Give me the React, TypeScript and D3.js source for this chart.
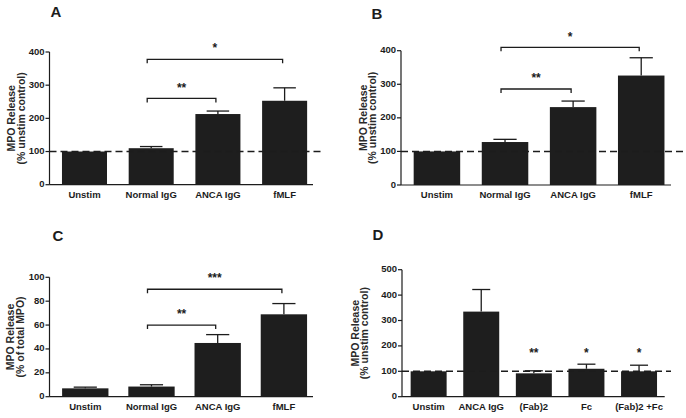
import * as d3 from 'd3';

// ---- data ----
const catsABC = ['Unstim', 'Normal IgG', 'ANCA IgG', 'fMLF'];
const catsD = ['Unstim', 'ANCA IgG', '(Fab)2', 'Fc', '(Fab)2 +Fc'];

const meanA = [100, 110, 213, 253];
const semA = [0, 5, 9, 39];
const meanB = [100, 128, 232, 326];
const semB = [0, 8, 18, 53];
const meanC = [7, 8.5, 45, 69];
const semC = [1, 1.5, 7, 9];
const meanD = [100, 335, 92, 110, 100];
const semD = [0, 87, 10, 18, 24];

const ticksUnstim400 = [0, 100, 200, 300, 400];
const ticksTotal = [0, 20, 40, 60, 80, 100];
const ticksUnstim500 = [0, 100, 200, 300, 400, 500];

type Bracket = { from: number; to: number; y: number; label: string };
type Star = { at: number; y: number; label: string };

const bracketsA: Bracket[] = [
  { from: 1, to: 2, y: 260, label: '**' },
  { from: 1, to: 3, y: 378, label: '*' },
];
const bracketsB: Bracket[] = [
  { from: 1, to: 2, y: 286, label: '**' },
  { from: 1, to: 3, y: 410, label: '*' },
];
const bracketsC: Bracket[] = [
  { from: 1, to: 2, y: 60, label: '**' },
  { from: 1, to: 3, y: 90, label: '***' },
];
const starsD: Star[] = [
  { at: 2, y: 168, label: '**' },
  { at: 3, y: 168, label: '*' },
  { at: 4, y: 168, label: '*' },
];

const FONT = '"Liberation Sans", Arial, sans-serif';
const INK = '#1c1c1c';

interface PanelProps {
  letter: string;
  letterX: number;
  letterY: number;
  cats: string[];
  mean: number[];
  sem: number[];
  ticks: number[];
  yLines: [string, string];
  x0: number;
  x1: number;
  yTop: number;
  yBottom: number;
  padInner: number;
  padOuter: number;
  align: number;
  labelOffset: number;
  dashEnd?: number;
  brackets?: Bracket[];
  stars?: Star[];
}

function Panel(p: PanelProps) {
  const yMax = p.ticks[p.ticks.length - 1];
  const y = d3.scaleLinear().domain([0, yMax]).range([p.yBottom, p.yTop]);
  const x = d3
    .scaleBand<string>()
    .domain(p.cats)
    .range([p.x0, p.x1])
    .paddingInner(p.padInner)
    .paddingOuter(p.padOuter)
    .align(p.align);
  const bw = x.bandwidth();
  const cx = (i: number) => (x(p.cats[i]) ?? 0) + bw / 2;
  const midY = (p.yTop + p.yBottom) / 2;

  return (
    <g fontFamily={FONT}>
      <text x={p.letterX} y={p.letterY} fontSize={15} fontWeight="bold" fill={INK} dominantBaseline="middle" textAnchor="middle">
        {p.letter}
      </text>

      {/* y label */}
      <g transform={`translate(${p.x0 - p.labelOffset},${midY}) rotate(-90)`}>
        <text x={0} y={0} fontSize={10.5} fontWeight="bold" fill="#2a2a2a" textAnchor="middle" dominantBaseline="middle">
          {p.yLines[0]}
        </text>
        <text x={0} y={9.5} fontSize={10.5} fontWeight="bold" fill="#2a2a2a" textAnchor="middle" dominantBaseline="middle">
          {p.yLines[1]}
        </text>
      </g>

      {/* bars */}
      {p.cats.map((c, i) => (
        <rect key={c} x={x(c)} y={y(p.mean[i])} width={bw} height={p.yBottom - y(p.mean[i])} fill="#1e1e1e" />
      ))}

      {/* error bars (upper only) */}
      {p.cats.map((c, i) =>
        p.sem[i] > 0 ? (
          <g key={c} stroke={INK} strokeWidth={1.3}>
            <line x1={cx(i)} x2={cx(i)} y1={y(p.mean[i])} y2={y(p.mean[i] + p.sem[i])} />
            <line x1={cx(i) - bw / 4} x2={cx(i) + bw / 4} y1={y(p.mean[i] + p.sem[i])} y2={y(p.mean[i] + p.sem[i])} />
          </g>
        ) : null
      )}

      {/* dashed reference line */}
      {p.dashEnd !== undefined && (
        <line x1={p.x0} x2={p.dashEnd} y1={y(100)} y2={y(100)} stroke={INK} strokeWidth={1.5} strokeDasharray="7,4" />
      )}

      {/* axes */}
      <line x1={p.x0} x2={p.x0} y1={p.yTop} y2={p.yBottom} stroke={INK} strokeWidth={1.2} />
      <line x1={p.x0} x2={p.x1} y1={p.yBottom} y2={p.yBottom} stroke={INK} strokeWidth={1.2} />
      {p.ticks.map((t) => (
        <g key={t}>
          <line x1={p.x0 - 4} x2={p.x0} y1={y(t)} y2={y(t)} stroke={INK} strokeWidth={1.2} />
          <text x={p.x0 - 5} y={y(t)} fontSize={9.5} fontWeight="bold" fill={INK} textAnchor="end" dominantBaseline="middle">
            {t}
          </text>
        </g>
      ))}
      {p.cats.map((c, i) => (
        <text key={c} x={cx(i)} y={p.yBottom + 10.5} fontSize={9.5} fontWeight="bold" fill={INK} textAnchor="middle" dominantBaseline="middle">
          {c}
        </text>
      ))}

      {/* significance brackets */}
      {(p.brackets ?? []).map((b, k) => {
        const yy = y(b.y);
        const xa = cx(b.from) - 4;
        const xb = cx(b.to) - 2;
        return (
          <g key={k}>
            <path d={`M${xa},${yy + 4}V${yy}H${xb}V${yy + 4}`} fill="none" stroke={INK} strokeWidth={1.3} />
            <text x={(xa + xb) / 2} y={yy - 10} fontSize={12} fontWeight="bold" fill={INK} textAnchor="middle" dominantBaseline="middle">
              {b.label}
            </text>
          </g>
        );
      })}
      {(p.stars ?? []).map((s, k) => (
        <text key={k} x={cx(s.at)} y={y(s.y)} fontSize={12} fontWeight="bold" fill={INK} textAnchor="middle" dominantBaseline="middle">
          {s.label}
        </text>
      ))}
    </g>
  );
}

export default function App() {
  return (
    <svg width={686} height={418} style={{ position: 'absolute', left: 0, top: 0, background: '#fff' }}>
      <Panel
        letter="A" letterX={56} letterY={13}
        cats={catsABC} mean={meanA} sem={semA} ticks={ticksUnstim400}
        yLines={['MPO  Release', '(% unstim control)']}
        x0={49.5} x1={313} yTop={52} yBottom={184.7}
        padInner={0.325} padOuter={0.1375} align={0.68}
        labelOffset={37} dashEnd={321} brackets={bracketsA}
      />
      <Panel
        letter="B" letterX={377} letterY={15}
        cats={catsABC} mean={meanB} sem={semB} ticks={ticksUnstim400}
        yLines={['MPO  Release', '(% unstim control)']}
        x0={401} x1={671} yTop={50.7} yBottom={185}
        padInner={0.317} padOuter={0.141} align={0.66}
        labelOffset={37} dashEnd={683} brackets={bracketsB}
      />
      <Panel
        letter="C" letterX={58} letterY={237}
        cats={catsABC} mean={meanC} sem={semC} ticks={ticksTotal}
        yLines={['MPO Release', '(% of total MPO)']}
        x0={49.5} x1={313} yTop={277.3} yBottom={396.7}
        padInner={0.3} padOuter={0.14} align={0.68}
        labelOffset={38} brackets={bracketsC}
      />
      <Panel
        letter="D" letterX={378} letterY={236}
        cats={catsD} mean={meanD} sem={semD} ticks={ticksUnstim500}
        yLines={['MPO Release', '(% unstim control)']}
        x0={402} x1={664.7} yTop={269.7} yBottom={396.7}
        padInner={0.316} padOuter={0.155} align={0.53}
        labelOffset={46} dashEnd={671} stars={starsD}
      />
    </svg>
  );
}
